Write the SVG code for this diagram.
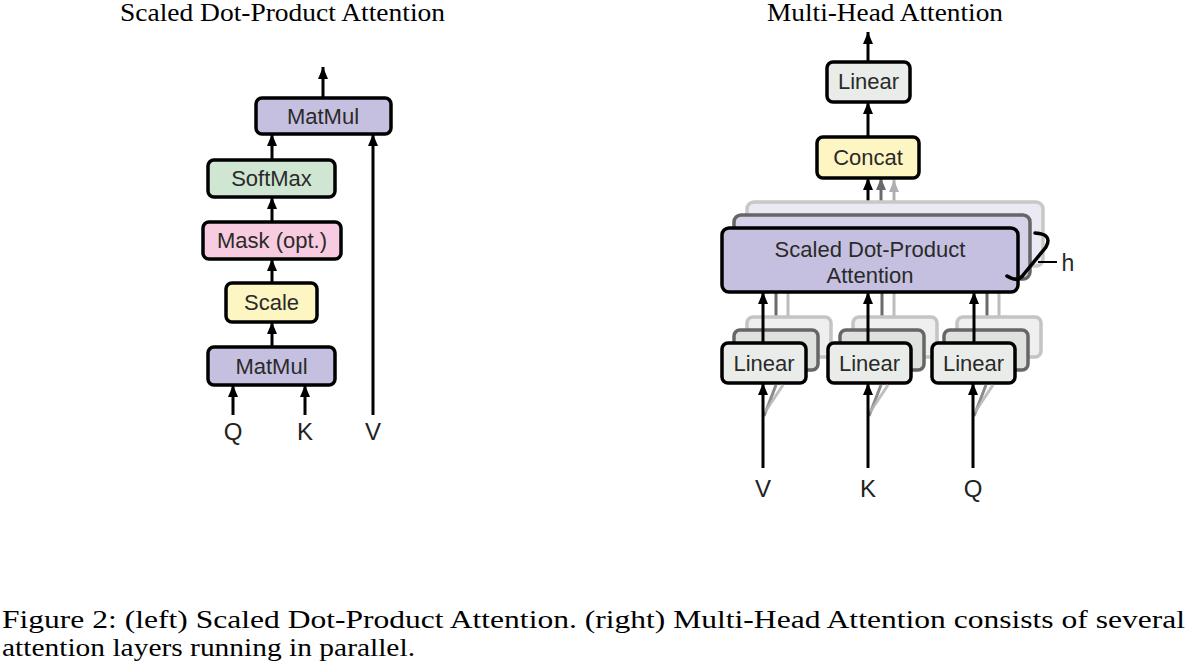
<svg xmlns="http://www.w3.org/2000/svg" width="1187" height="671" viewBox="0 0 1187 671">
<defs>
<marker id="ah" markerUnits="userSpaceOnUse" markerWidth="12" markerHeight="10" refX="12" refY="5" orient="auto"><path d="M0,0 L12,5 L0,10 z" fill="#000"/></marker>
<marker id="ahd" markerUnits="userSpaceOnUse" markerWidth="12" markerHeight="10" refX="12" refY="5" orient="auto"><path d="M0,0 L12,5 L0,10 z" fill="#6a6a6a"/></marker>
<marker id="ahl" markerUnits="userSpaceOnUse" markerWidth="12" markerHeight="10" refX="12" refY="5" orient="auto"><path d="M0,0 L12,5 L0,10 z" fill="#b0b0b0"/></marker>
</defs>
<style>
.box{stroke:#000;stroke-width:3.5}
.lbl{font-family:"Liberation Sans",Arial,sans-serif;font-size:22px;fill:#2a2a2a;text-anchor:middle}
.io{font-family:"Liberation Sans",Arial,sans-serif;font-size:24px;fill:#222;text-anchor:middle}
.ttl{font-family:"Liberation Serif","Times New Roman",serif;font-size:26px;fill:#000}
.cap{font-family:"Liberation Serif","Times New Roman",serif;font-size:25px;fill:#000}
.purple{fill:#c6c0e0}.green{fill:#cfe6d2}.pink{fill:#f8cce0}.yellow{fill:#fdf6c3}.grey{fill:#e9ece9}
.arr{stroke:#000;stroke-width:3;fill:none;marker-end:url(#ah)}
.arrd{stroke:#6a6a6a;stroke-width:3;fill:none;marker-end:url(#ahd)}
.arrl{stroke:#b0b0b0;stroke-width:3;fill:none;marker-end:url(#ahl)}
.lnd{stroke:#6a6a6a;stroke-width:3;fill:none}
.lnl{stroke:#bdbdbd;stroke-width:3;fill:none}
.shd{fill:#dfe1df;stroke:#666;stroke-width:3.5}
.shl{fill:#efefef;stroke:#c4c4c4;stroke-width:3.5}
</style>
<rect width="1187" height="671" fill="#fff"/>

<text class="ttl" x="120" y="21" textLength="325" lengthAdjust="spacingAndGlyphs">Scaled Dot-Product Attention</text>
<text class="ttl" x="767" y="21" textLength="236" lengthAdjust="spacingAndGlyphs">Multi-Head Attention</text>

<g id="left-connectors">
<line class="arr" x1="323" y1="98" x2="323" y2="67"/>
<line class="arr" x1="272" y1="160" x2="272" y2="134"/>
<line class="arr" x1="272" y1="222" x2="272" y2="197"/>
<line class="arr" x1="272" y1="283" x2="272" y2="259"/>
<line class="arr" x1="272" y1="347" x2="272" y2="322"/>
<line class="arr" x1="233" y1="415" x2="233" y2="385"/>
<line class="arr" x1="305" y1="415" x2="305" y2="385"/>
<line class="arr" x1="373" y1="415" x2="373" y2="134"/>
</g>

<g id="l-matmul-top"><rect class="box purple" x="256" y="98" width="135" height="36" rx="6"/><text class="lbl" x="323" y="124">MatMul</text></g>
<g id="l-softmax"><rect class="box green" x="208" y="160" width="127" height="37" rx="6"/><text class="lbl" x="271.5" y="186">SoftMax</text></g>
<g id="l-mask"><rect class="box pink" x="203" y="222" width="138" height="37" rx="6"/><text class="lbl" x="272" y="248">Mask (opt.)</text></g>
<g id="l-scale"><rect class="box yellow" x="226" y="283" width="91" height="39" rx="6"/><text class="lbl" x="271.5" y="310">Scale</text></g>
<g id="l-matmul-bot"><rect class="box purple" x="208" y="347" width="127" height="38" rx="6"/><text class="lbl" x="271.5" y="374">MatMul</text></g>
<g id="l-inputs">
<text class="io" x="233" y="440">Q</text>
<text class="io" x="305" y="440">K</text>
<text class="io" x="373" y="440">V</text>
</g>

<g id="right-connectors">
<line class="arr" x1="868" y1="62" x2="868" y2="32"/>
<line class="arr" x1="868" y1="137" x2="868" y2="102"/>
<line class="arrl" x1="894" y1="202" x2="894" y2="180"/>
<line class="arrd" x1="881" y1="215" x2="881" y2="178"/>
<line class="arr" x1="868" y1="228" x2="868" y2="178"/>
<line class="lnl" x1="788" y1="317" x2="788" y2="266"/>
<line class="lnd" x1="776" y1="330" x2="776" y2="279"/>
<line class="lnl" x1="894" y1="317" x2="894" y2="266"/>
<line class="lnd" x1="882" y1="330" x2="882" y2="279"/>
<line class="lnl" x1="999" y1="317" x2="999" y2="266"/>
<line class="lnd" x1="987" y1="330" x2="987" y2="279"/>
</g>

<g id="r-linear-top"><rect class="box grey" x="827" y="62" width="83" height="40" rx="6"/><text class="lbl" x="868.5" y="89">Linear</text></g>
<g id="r-concat"><rect class="box yellow" x="817" y="137" width="102" height="41" rx="6"/><text class="lbl" x="868" y="165">Concat</text></g>

<g id="r-sdpa">
<rect x="747" y="202" width="296" height="64" rx="7" fill="#ebe9f3" stroke="#c8c8c8" stroke-width="3.5"/>
<rect x="734" y="215" width="296" height="64" rx="7" fill="#d7d2e9" stroke="#666" stroke-width="3.5"/>
<rect class="box purple" x="722" y="228" width="296" height="64" rx="7"/>
<text class="lbl" x="870" y="257">Scaled Dot-Product</text>
<text class="lbl" x="870" y="283">Attention</text>
</g>

<g id="r-head-brace">
<path d="M1035,233 Q1053,234 1046,247 L1024,274 Q1018,283 1007,276" fill="none" stroke="#000" stroke-width="3.5" stroke-linecap="round"/>
<line x1="1038" y1="262" x2="1057" y2="262" stroke="#000" stroke-width="2"/>
<text class="lbl" x="1068" y="271" style="font-size:23px">h</text>
</g>

<g id="r-linear-v">
<rect class="shl" x="747" y="317" width="84" height="40" rx="6"/>
<rect class="shd" x="734" y="330" width="84" height="40" rx="6"/>
<rect class="box grey" x="722" y="343" width="84" height="40" rx="6"/>
<text class="lbl" x="764" y="371">Linear</text>
</g>
<g id="r-linear-k">
<rect class="shl" x="853" y="317" width="84" height="40" rx="6"/>
<rect class="shd" x="840" y="330" width="84" height="40" rx="6"/>
<rect class="box grey" x="828" y="343" width="83" height="40" rx="6"/>
<text class="lbl" x="869.5" y="371">Linear</text>
</g>
<g id="r-linear-q">
<rect class="shl" x="957" y="317" width="84" height="40" rx="6"/>
<rect class="shd" x="944" y="330" width="84" height="40" rx="6"/>
<rect class="box grey" x="932" y="343" width="83" height="40" rx="6"/>
<text class="lbl" x="973.5" y="371">Linear</text>
</g>

<g id="right-connectors-2">
<line class="arr" x1="763" y1="343" x2="763" y2="292"/>
<line class="arr" x1="868" y1="343" x2="868" y2="292"/>
<line class="arr" x1="974" y1="343" x2="974" y2="292"/>
<line x1="764" y1="416" x2="776" y2="385" stroke="#777" stroke-width="3" opacity="0.85"/>
<line x1="765" y1="412" x2="783" y2="385" stroke="#b5b5b5" stroke-width="3" opacity="0.85"/>
<line x1="869" y1="416" x2="881" y2="385" stroke="#777" stroke-width="3" opacity="0.85"/>
<line x1="870" y1="412" x2="888" y2="385" stroke="#b5b5b5" stroke-width="3" opacity="0.85"/>
<line x1="974" y1="416" x2="986" y2="385" stroke="#777" stroke-width="3" opacity="0.85"/>
<line x1="975" y1="412" x2="993" y2="385" stroke="#b5b5b5" stroke-width="3" opacity="0.85"/>
<line class="arr" x1="763" y1="468" x2="763" y2="383"/>
<line class="arr" x1="868" y1="468" x2="868" y2="383"/>
<line class="arr" x1="973" y1="468" x2="973" y2="383"/>
</g>
<g id="r-inputs">
<text class="io" x="763" y="497">V</text>
<text class="io" x="868" y="497">K</text>
<text class="io" x="973" y="497">Q</text>
</g>

<g id="caption">
<text class="cap" x="2" y="628" textLength="1183" lengthAdjust="spacingAndGlyphs">Figure 2:  (left) Scaled Dot-Product Attention.  (right) Multi-Head Attention consists of several</text>
<text class="cap" x="2" y="656" textLength="413" lengthAdjust="spacingAndGlyphs">attention layers running in parallel.</text>
</g>
</svg>
